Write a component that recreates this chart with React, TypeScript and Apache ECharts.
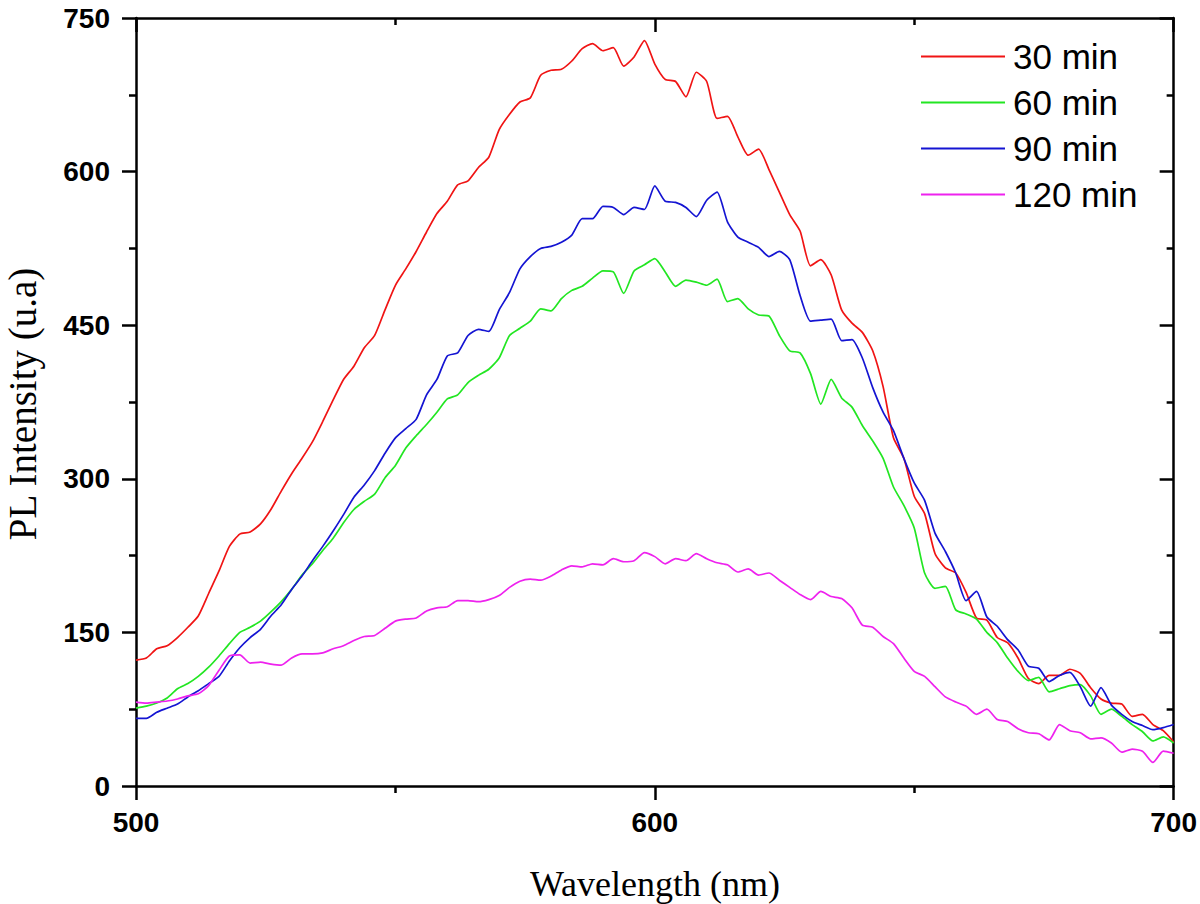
import React, { useEffect, useRef } from "react";
import * as echarts from "echarts";

const WAVELENGTH = [
  500, 502, 504, 506, 508, 510, 512, 514, 516, 518,
  520, 522, 524, 526, 528, 530, 532, 534, 536, 538,
  540, 542, 544, 546, 548, 550, 552, 554, 556, 558,
  560, 562, 564, 566, 568, 570, 572, 574, 576, 578,
  580, 582, 584, 586, 588, 590, 592, 594, 596, 598,
  600, 602, 604, 606, 608, 610, 612, 614, 616, 618,
  620, 622, 624, 626, 628, 630, 632, 634, 636, 638,
  640, 642, 644, 646, 648, 650, 652, 654, 656, 658,
  660, 662, 664, 666, 668, 670, 672, 674, 676, 678,
  680, 682, 684, 686, 688, 690, 692, 694, 696, 698,
  700,
];

const MIN30 = [
  123, 125, 134, 137, 145, 155, 166, 188, 210, 234,
  246, 248, 256, 270, 288, 305, 320, 336, 356, 377,
  397, 410, 428, 440, 465, 489, 505, 522, 541, 559,
  571, 587, 591, 604, 614, 641, 656, 668, 672, 694,
  699, 700, 708, 720, 725, 718, 721, 703, 712, 728,
  705, 690, 688, 673, 697, 688, 652, 654, 634, 616,
  622, 602, 580, 558, 542, 508, 514, 499, 465, 452,
  443, 425, 390, 340, 320, 283, 266, 227, 213, 208,
  189, 164, 162, 145, 140, 125, 105, 100, 108, 108,
  114, 110, 96, 85, 81, 80, 68, 70, 60, 54,
  43,
];

const MIN60 = [
  76, 78, 81, 86, 95, 100, 107, 116, 127, 139,
  150, 155, 161, 170, 180, 192, 206, 217, 230, 242,
  257, 270, 278, 285, 301, 313, 330, 342, 353, 365,
  378, 382, 394, 401, 407, 418, 440, 447, 454, 466,
  464, 476, 484, 488, 496, 503, 502, 481, 503, 509,
  515, 502, 488, 494, 492, 489, 495, 473, 476, 466,
  460, 459, 440, 425, 423, 403, 373, 397, 379, 370,
  352, 337, 320, 292, 274, 252, 208, 193, 195, 172,
  168, 163, 150, 140, 125, 112, 103, 106, 92, 95,
  98, 99, 88, 70, 75, 68, 60, 53, 44, 48,
  42,
];

const MIN90 = [
  66, 66, 72, 76, 80, 87, 93, 100, 107, 122,
  135, 145, 153, 166, 177, 192, 205, 220, 234, 249,
  265, 282, 294, 308, 325, 340, 349, 358, 382, 397,
  420, 423, 440, 446, 444, 465, 482, 505, 517, 525,
  527, 531, 538, 554, 554, 566, 565, 558, 565, 563,
  586, 571, 570, 565, 556, 572, 580, 551, 536, 531,
  526, 517, 522, 514, 479, 454, 455, 456, 435, 436,
  418, 389, 365, 347, 320, 296, 279, 247, 229, 208,
  181, 190, 165, 156, 143, 133, 117, 115, 102, 108,
  111, 97, 78, 96, 79, 70, 63, 59, 55, 57,
  60,
];

const MIN120 = [
  82, 81, 82, 83, 85, 88, 90, 98, 113, 127,
  128, 120, 121, 119, 118, 125, 129, 129, 130, 134,
  137, 142, 146, 147, 154, 161, 163, 164, 171, 174,
  175, 181, 181, 180, 182, 186, 194, 200, 202, 201,
  205, 211, 215, 214, 217, 216, 222, 219, 220, 228,
  224, 217, 222, 220, 227, 222, 218, 216, 209, 212,
  206, 208, 201, 194, 187, 182, 190, 185, 183, 174,
  157, 155, 146, 139, 125, 112, 107, 97, 87, 82,
  78, 70, 75, 65, 63, 56, 52, 51, 45, 60,
  54, 52, 46, 47, 42, 33, 36, 34, 23, 34,
  32,
];

const SERIES_NAMES = ["30 min", "60 min", "90 min", "120 min"];
const SERIES_COLORS = ["#f01414", "#22e622", "#1414d2", "#ee22ee"];
const X_TICKS = { min: 500, max: 700, interval: 100 };
const Y_TICKS = { min: 0, max: 750, interval: 150 };
const X_TITLE = "Wavelength (nm)";
const Y_TITLE = "PL Intensity (u.a)";

export default function App() {
  const ref = useRef<HTMLDivElement>(null);

  useEffect(() => {
    document.body.style.margin = "0";
    const chart = echarts.init(ref.current as HTMLDivElement, null, { renderer: "svg" });
    const values = [MIN30, MIN60, MIN90, MIN120];
    const black = "#000";
    const lineW = 2.5;

    const axisCommon = (inside: boolean, showLabel: boolean, margin: number) => ({
      axisLine: { show: true, onZero: false, lineStyle: { color: black, width: lineW } },
      axisTick: { show: true, inside, length: 14, lineStyle: { color: black, width: lineW } },
      minorTick: { show: true, splitNumber: 2, length: 7, lineStyle: { color: black, width: lineW } },
      splitLine: { show: false },
      minorSplitLine: { show: false },
      axisLabel: {
        show: showLabel,
        margin,
        color: black,
        fontSize: 28,
        fontWeight: "bold",
        fontFamily: "'Liberation Sans', Arial, sans-serif",
      },
    });

    chart.setOption({
      animation: false,
      backgroundColor: "#fff",
      grid: { left: 136, right: 26, top: 18, bottom: 118, containLabel: false },
      xAxis: [
        { type: "value", position: "bottom", ...X_TICKS, ...axisCommon(false, true, 22) },
        { type: "value", position: "top", ...X_TICKS, ...axisCommon(true, false, 8) },
      ],
      yAxis: [
        { type: "value", position: "left", ...Y_TICKS, ...axisCommon(false, true, 26) },
        { type: "value", position: "right", ...Y_TICKS, ...axisCommon(true, false, 8) },
      ],
      legend: {
        orient: "vertical",
        left: 916,
        top: 34,
        icon: "rect",
        itemWidth: 84,
        itemHeight: 2,
        itemGap: 11,
        data: SERIES_NAMES,
        textStyle: {
          color: black,
          fontSize: 35,
          fontFamily: "'Liberation Sans', Arial, sans-serif",
          padding: [0, 0, 0, 3],
        },
      },
      graphic: [
        {
          type: "text",
          x: 655,
          y: 884,
          style: {
            text: X_TITLE,
            fill: black,
            fontSize: 36,
            fontFamily: "'Liberation Serif', 'Times New Roman', serif",
            align: "center",
            verticalAlign: "middle",
          },
        },
        {
          type: "text",
          x: 22,
          y: 404,
          rotation: Math.PI / 2,
          style: {
            text: Y_TITLE,
            fill: black,
            fontSize: 39,
            fontFamily: "'Liberation Serif', 'Times New Roman', serif",
            align: "center",
            verticalAlign: "middle",
          },
        },
      ],
      series: SERIES_NAMES.map((name, k) => ({
        name,
        type: "line",
        xAxisIndex: 0,
        yAxisIndex: 0,
        showSymbol: false,
        symbol: "none",
        smooth: 0.2,
        color: SERIES_COLORS[k],
        lineStyle: { width: 1.7, color: SERIES_COLORS[k] },
        data: WAVELENGTH.map((w, i) => [w, values[k][i]]),
      })),
    });

    return () => chart.dispose();
  }, []);

  return <div ref={ref} style={{ width: 1200, height: 904 }} />;
}
